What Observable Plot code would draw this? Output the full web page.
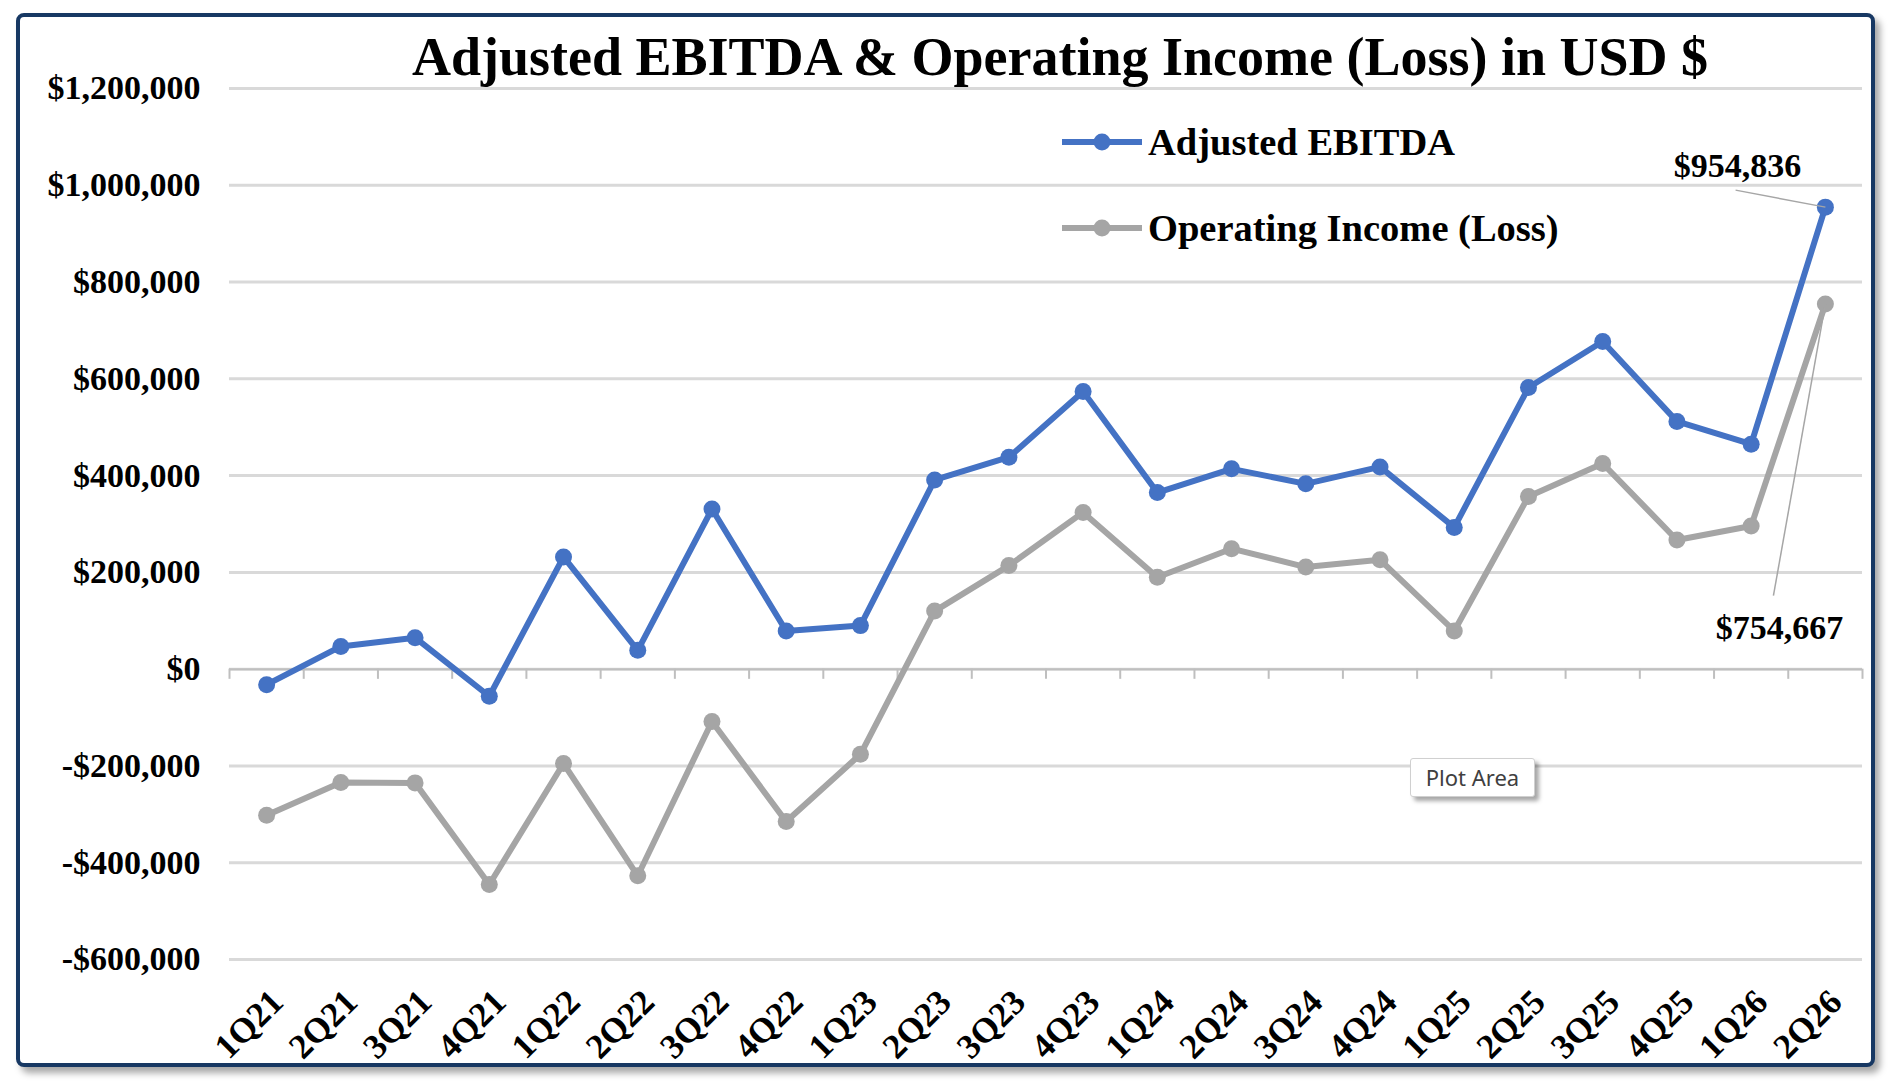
<!DOCTYPE html>
<html>
<head>
<meta charset="utf-8">
<script src="https://cdn.jsdelivr.net/npm/d3@7"></script>
<script src="https://cdn.jsdelivr.net/npm/@observablehq/plot@0.6"></script>
<style>
  html, body { margin: 0; padding: 0; background: #ffffff; }
  #wrap { position: relative; width: 1899px; height: 1091px; overflow: hidden; }
  #frame { position: absolute; left: 16px; top: 13px; width: 1851px; height: 1046px;
           border: 4px solid #173863; border-radius: 8px; box-shadow: 5px 6px 7px rgba(0,0,0,0.35); background: #fff; }
  #chart { position: absolute; left: 0; top: 0; }
  #overlay { position: absolute; left: 0; top: 0; pointer-events: none; }
  #tip { position: absolute; left: 1410px; top: 758px; width: 123px; height: 37px; background: #fff;
         border: 1px solid #d0d0d0; border-radius: 3px; box-shadow: 4px 4px 4px rgba(0,0,0,0.35);
         font-family: "Noto Sans", sans-serif; font-size: 22px; color: #404040; text-align: center; line-height: 37px; }
</style>
</head>
<body>
<div id="wrap">
  <div id="frame"></div>
  <div id="chart"></div>
  <svg id="overlay" width="1899" height="1091"></svg>
  <div id="tip">Plot Area</div>
</div>
<script>
const categories = ["1Q21","2Q21","3Q21","4Q21","1Q22","2Q22","3Q22","4Q22","1Q23","2Q23","3Q23","4Q23",
                    "1Q24","2Q24","3Q24","4Q24","1Q25","2Q25","3Q25","4Q25","1Q26","2Q26"];
const adjustedEbitda = [-32000, 47000, 65000, -56000, 232000, 39000, 331000, 79000, 90000, 391000, 438000, 574000,
                        365000, 414000, 383000, 418000, 293000, 582000, 677000, 512000, 465000, 954836];
const operatingIncome = [-302000, -234000, -235000, -445000, -195000, -427000, -108000, -315000, -176000, 120000, 214000, 324000,
                         190000, 249000, 211000, 226000, 79000, 357000, 425000, 267000, 296000, 754667];
const yTicks = [-600000, -400000, -200000, 0, 200000, 400000, 600000, 800000, 1000000, 1200000];
const seriesNames = ["Adjusted EBITDA", "Operating Income (Loss)"];
const seriesColors = ["#4472C4", "#A5A5A5"];
const titleText = "Adjusted EBITDA & Operating Income (Loss) in USD $";

const fmtMoney = d => (d < 0 ? "-" : "") + "$" + d3.format(",")(Math.abs(d));

const rows = [];
categories.forEach((c, i) => {
  rows.push({i, cat: c, series: seriesNames[0], v: adjustedEbitda[i]});
  rows.push({i, cat: c, series: seriesNames[1], v: operatingIncome[i]});
});
const ebitdaRows = rows.filter(r => r.series === seriesNames[0]);
const opRows = rows.filter(r => r.series === seriesNames[1]);
const boundaries = d3.range(categories.length + 1).map(k => k - 0.5);
const last = categories.length - 1;

// annotation labels (last values) with leader-line ends
const labelEbitda = [{i: last, v: adjustedEbitda[last], text: fmtMoney(adjustedEbitda[last]), x2: 19.79, y2: 990000}];
const labelOp = [{i: last, v: operatingIncome[last], text: fmtMoney(operatingIncome[last]), x2: 20.30, y2: 152000}];

const font = "'Liberation Serif', 'Times New Roman', serif";

const chart = Plot.plot({
  width: 1899,
  height: 1091,
  marginLeft: 229,
  marginRight: 37,
  marginTop: 88,
  marginBottom: 132,
  style: {fontFamily: font, background: "transparent", color: "#000", overflow: "visible"},
  x: {type: "linear", domain: [-0.5, categories.length - 0.5], axis: null},
  y: {domain: [-600000, 1200000], axis: null},
  marks: [
    Plot.gridY(yTicks, {stroke: "#D9D9D9", strokeWidth: 3, strokeOpacity: 1}),
    Plot.ruleY([0], {stroke: "#BFBFBF", strokeWidth: 2}),
    Plot.ruleX(boundaries, {x: d => d, y1: 0, y2: -21000, stroke: "#BFBFBF", strokeWidth: 2}),
    Plot.axisY(yTicks, {tickSize: 0, tickPadding: 29, tickFormat: fmtMoney, fontSize: 34, fontWeight: "bold", fontFamily: font}),
    Plot.text(categories.map((c, i) => ({i, c})), {x: "i", text: "c", frameAnchor: "bottom", rotate: -45,
      textAnchor: "end", lineAnchor: "top", dx: 1, dy: 27, fontSize: 35, fontWeight: "bold", fontFamily: font, fill: "#000"}),
    Plot.line(ebitdaRows, {x: "i", y: "v", stroke: seriesColors[0], strokeWidth: 6, strokeLinejoin: "round"}),
    Plot.dot(ebitdaRows, {x: "i", y: "v", r: 8.5, fill: seriesColors[0], stroke: "none"}),
    Plot.line(opRows, {x: "i", y: "v", stroke: seriesColors[1], strokeWidth: 6, strokeLinejoin: "round"}),
    Plot.dot(opRows, {x: "i", y: "v", r: 8.5, fill: seriesColors[1], stroke: "none"}),
    Plot.link(labelEbitda, {x1: "i", y1: "v", x2: "x2", y2: "y2", stroke: "#A6A6A6", strokeWidth: 1.5}),
    Plot.link(labelOp, {x1: "i", y1: "v", x2: "x2", y2: "y2", stroke: "#A6A6A6", strokeWidth: 1.5}),
    Plot.text(labelEbitda, {x: "i", y: "v", text: "text", dx: -88, dy: -41, fontSize: 34, fontWeight: "bold", fontFamily: font, fill: "#000"}),
    Plot.text(labelOp, {x: "i", y: "v", text: "text", dx: -46, dy: 324, fontSize: 34, fontWeight: "bold", fontFamily: font, fill: "#000"})
  ]
});
document.getElementById("chart").appendChild(chart);

// Title and legend overlay
const ov = d3.select("#overlay");
ov.append("text").attr("x", 1060).attr("y", 75).attr("text-anchor", "middle")
  .attr("font-family", font).attr("font-weight", "bold").attr("font-size", 54).attr("fill", "#000").text(titleText);
const legendY = [142, 228];
seriesNames.forEach((name, k) => {
  const g = ov.append("g").attr("transform", `translate(1062,${legendY[k]})`);
  g.append("line").attr("x1", 0).attr("x2", 80).attr("y1", 0).attr("y2", 0).attr("stroke", seriesColors[k]).attr("stroke-width", 6);
  g.append("circle").attr("cx", 40).attr("cy", 0).attr("r", 8.5).attr("fill", seriesColors[k]);
  g.append("text").attr("x", 86).attr("y", 0).attr("dy", "0.35em").attr("font-family", font).attr("font-weight", "bold")
    .attr("font-size", 38.5).attr("fill", "#000").text(name);
});
</script>
</body>
</html>
